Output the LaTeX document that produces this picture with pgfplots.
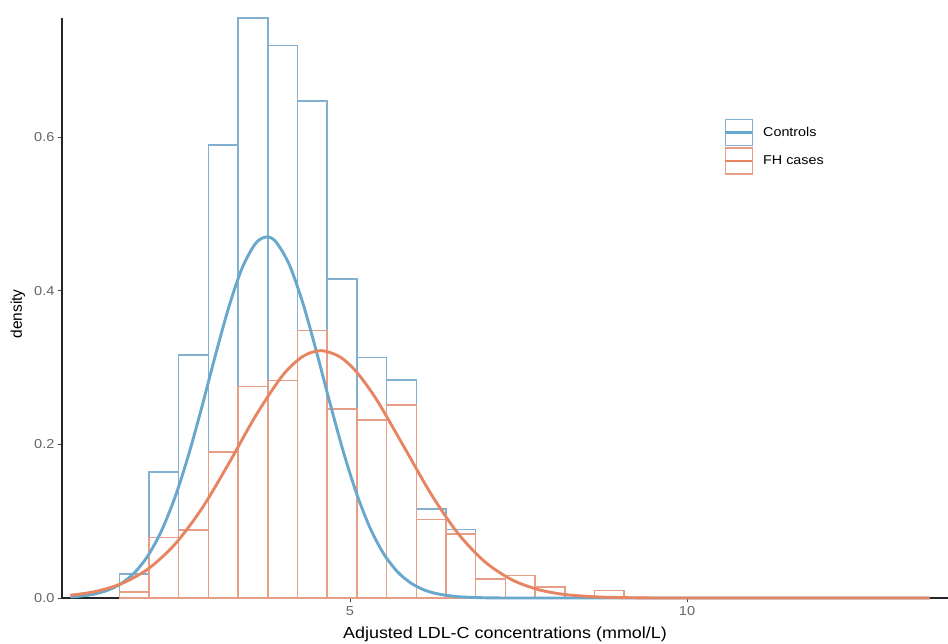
\documentclass[border=0pt]{standalone}
\usepackage{pgfplots}
\pgfplotsset{compat=1.18}
\usepackage{fontspec}
\setmainfont{Liberation Sans}[FakeStretch=1.12]
\newfontfamily\ylabfont{Liberation Sans}
\definecolor{ctrlline}{RGB}{104,168,204}
\definecolor{ctrlbar}{RGB}{130,176,208}
\definecolor{fhline}{RGB}{231,133,98}
\definecolor{fhbar}{RGB}{230,158,134}
\begin{document}
\begin{tikzpicture}
\path[use as bounding box] (0,0) rectangle (948pt,643pt);
\begin{axis}[
  at={(62pt,45pt)}, anchor=south west,
  scale only axis, width=886pt, height=580pt,
  xmin=0.727, xmax=13.872, ymin=0, ymax=0.755,
  clip=false,
  axis x line*=bottom, axis y line*=left,
  axis line style={black!85, line width=1.3pt, -},
  xtick={5,10}, ytick={0,0.2,0.4,0.6},
  minor tick num=0,
  tick align=outside, major tick length=4pt,
  tick style={black!75, line width=1pt},
  /pgf/number format/assume math mode=true,
  yticklabel style={/pgf/number format/fixed, /pgf/number format/fixed zerofill, /pgf/number format/precision=1},
  ticklabel style={font=\fontsize{13}{15}\selectfont, text=black!60},
  xticklabel style={yshift=-1pt},
  xlabel={Adjusted LDL-C concentrations (mmol/L)},
  xlabel style={at={(rel axis cs:0.5,-0.069)}, anchor=base, font=\fontsize{16}{18}\selectfont},
  ylabel={density},
  ylabel style={at={(rel axis cs:-0.0497,0.49)}, anchor=center, font=\ylabfont\fontsize{15.5}{18}\selectfont},
  legend style={at={(axis cs:10.55,0.624)}, anchor=north west, draw=none, fill=none, inner sep=0pt, row sep=1pt, column sep=9pt, nodes={inner sep=0.5pt}, font=\fontsize{12.8}{15}\selectfont},
  legend cell align=left,
]
\addlegendimage{legend image code/.code={\draw[ctrlbar, line width=1.5pt, fill=white] (0pt,-13pt) rectangle (27pt,13pt); \draw[ctrlline, line width=2.4pt] (0pt,0pt) -- (27pt,0pt);}}
\addlegendentry{Controls}
\addlegendimage{legend image code/.code={\draw[fhbar, line width=1.5pt, fill=white] (0pt,-13pt) rectangle (27pt,13pt); \draw[fhline, line width=2.4pt] (0pt,0pt) -- (27pt,0pt);}}
\addlegendentry{FH cases}

% Controls histogram
\addplot[forget plot, ybar interval, draw=ctrlbar, fill=none, line width=1.5pt] coordinates {
(1.577,0.031)(2.018,0.164)(2.458,0.316)(2.899,0.590)(3.339,0.755)(3.780,0.719)(4.221,0.647)(4.661,0.415)(5.102,0.313)(5.542,0.284)(5.983,0.116)(6.424,0.089)(6.864,0.025)(7.305,0)
};
% FH cases histogram
\addplot[forget plot, ybar interval, draw=fhbar, fill=none, line width=1.5pt] coordinates {
(1.577,0.008)(2.018,0.079)(2.458,0.0886)(2.899,0.190)(3.339,0.275)(3.780,0.283)(4.221,0.348)(4.661,0.246)(5.102,0.232)(5.542,0.251)(5.983,0.102)(6.424,0.083)(6.864,0.025)(7.305,0.029)(7.745,0.014)(8.186,0.0)(8.627,0.0095)(9.067,0)
};
% Controls density curve
\addplot[forget plot, smooth, ctrlline, line width=2.9pt] coordinates {
(0.85,0.0013)(1.0,0.0024)(1.2,0.0050)(1.4,0.0099)(1.6,0.0185)(1.8,0.0327)(2.0,0.0548)(2.2,0.0869)(2.4,0.1303)(2.6,0.1848)(2.8,0.2480)(3.0,0.3149)(3.2,0.3781)(3.4,0.4296)(3.6,0.4617)(3.76,0.4700)(3.9,0.4637)(4.1,0.4338)(4.3,0.3840)(4.5,0.3215)(4.7,0.2546)(4.9,0.1908)(5.1,0.1353)(5.3,0.0907)(5.5,0.0575)(5.7,0.0345)(5.9,0.0196)(6.1,0.0105)(6.3,0.0054)(6.6,0.0017)(7.0,0.0003)(7.5,0.0000)(9.0,0)(13.6,0)
};
% FH cases density curve
\addplot[forget plot, smooth, fhline, line width=2.9pt] coordinates {
(0.85,0.0036)(1.2,0.0080)(1.6,0.0183)(2.0,0.0376)(2.4,0.0697)(2.8,0.1162)(3.2,0.1749)(3.6,0.2371)(4.0,0.2897)(4.3,0.3145)(4.57,0.3220)(4.85,0.3139)(5.1,0.2939)(5.4,0.2574)(5.8,0.1969)(6.2,0.1357)(6.6,0.0843)(7.0,0.0472)(7.4,0.0238)(7.8,0.0108)(8.2,0.0044)(8.7,0.0013)(9.3,0.0002)(10.0,0.0000)(13.6,0)
};
\end{axis}
\end{tikzpicture}
\end{document}
